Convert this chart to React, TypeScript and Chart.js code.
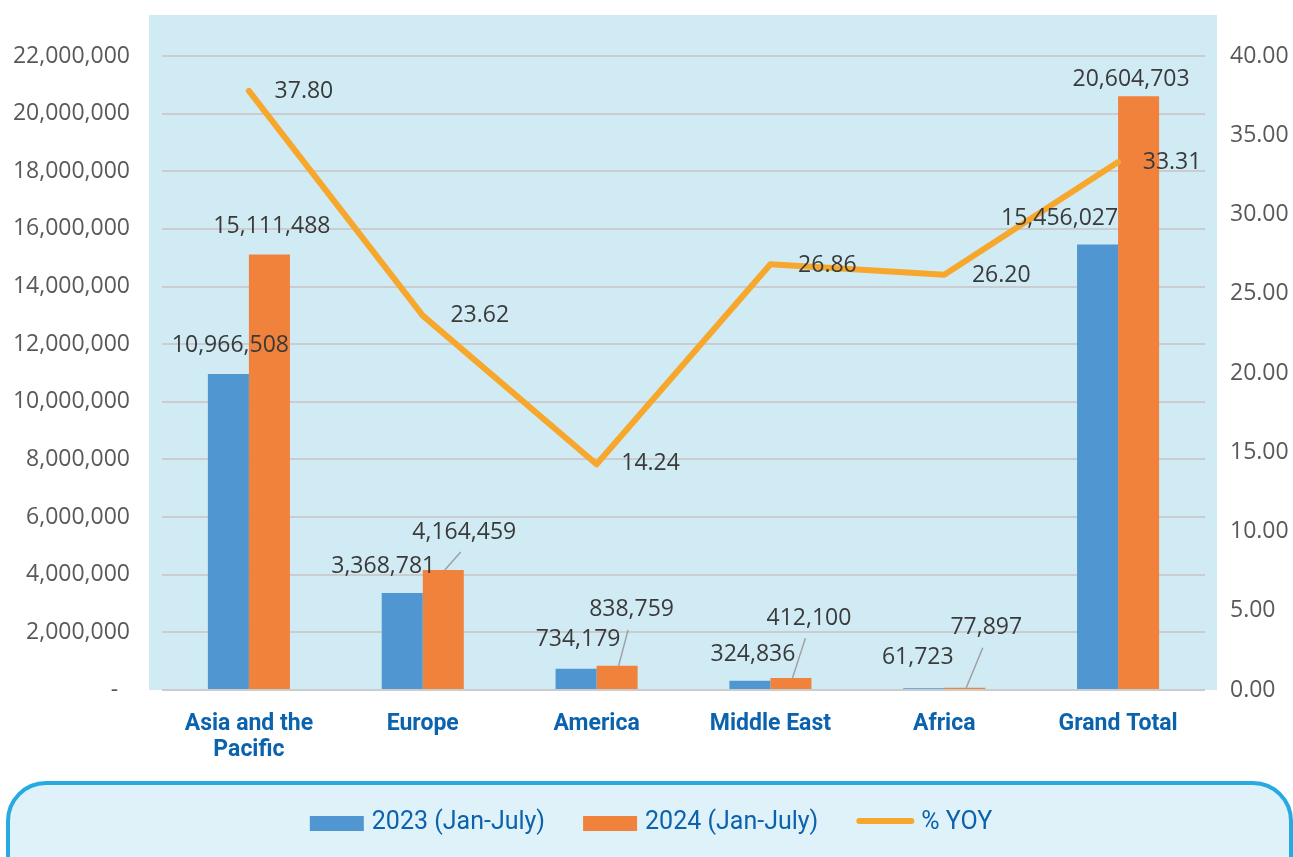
import React, { useEffect, useRef } from "react";
import { Chart, registerables } from "chart.js";

Chart.register(...registerables);

// ---------- data ----------
const categories: (string | string[])[] = [
  ["Asia and the", "Pacific"],
  "Europe",
  "America",
  "Middle East",
  "Africa",
  "Grand Total",
];
const seriesLabels = ["2023 (Jan-July)", "2024 (Jan-July)", "% YOY"];
const values2023 = [10966508, 3368781, 734179, 324836, 61723, 15456027];
const values2024 = [15111488, 4164459, 838759, 412100, 77897, 20604703];
const yoyPercent = [37.8, 23.62, 14.24, 26.86, 26.2, 33.31];
const leftAxis = { min: 0, max: 22000000, step: 2000000 };
const rightAxis = { min: 0, max: 40, step: 5 };

// ---------- styles ----------
const BLUE = "#5096d1";
const ORANGE = "#f0823c";
const LINE = "#f7a72b";
const PLOT_BG = "#d0ebf4";
const LABEL_COLOR = "#3a3a3a";
const TICK_COLOR = "#595959";
const CAT_COLOR = "#0b62ad";
const NUM_FONT = "'Open Sans', 'Noto Sans', sans-serif";
const CAT_FONT = "Roboto, 'Noto Sans', sans-serif";

// label offsets relative to bar top centre (dx, dy)
const offs2023 = [[2, -29], [-19, -26], [2, -29], [3, -26], [-6, -31], [-38, -26]];
const offs2024 = [[2.5, -28], [21, -38], [14.5, -56], [18, -60], [21.5, -60], [-7.5, -17]];
const leader2024 = [false, true, true, true, true, false];
const lineOffs = [[55, 1], [57, 0], [54, -1], [57, 1], [57, 1], [54, 0]];

const fmtInt = (v: number) => v.toLocaleString("en-US");

const decorPlugin = {
  id: "decor",
  beforeDraw(chart: any) {
    const { ctx, chartArea: ca } = chart;
    ctx.save();
    ctx.fillStyle = PLOT_BG;
    ctx.fillRect(ca.left - 13, 15, ca.right - ca.left + 25, ca.bottom - 15);
    // legend box
    ctx.beginPath();
    (ctx as any).roundRect(8, 783, 1283, 110, 38);
    ctx.fillStyle = "#dff2fa";
    ctx.fill();
    ctx.lineWidth = 4;
    ctx.strokeStyle = "#27aae1";
    ctx.stroke();
    ctx.restore();
  },
  afterDatasetsDraw(chart: any) {
    const { ctx } = chart;
    ctx.save();
    ctx.font = `23px ${NUM_FONT}`;
    ctx.fillStyle = LABEL_COLOR;
    ctx.textAlign = "center";
    ctx.textBaseline = "middle";
    const bars = [
      { idx: 0, vals: values2023, offs: offs2023, leaders: null as boolean[] | null },
      { idx: 1, vals: values2024, offs: offs2024, leaders: leader2024 },
    ];
    for (const b of bars) {
      const meta = chart.getDatasetMeta(b.idx);
      meta.data.forEach((el: any, j: number) => {
        const lx = el.x + b.offs[j][0];
        const ly = el.y + b.offs[j][1];
        if (b.leaders && b.leaders[j]) {
          ctx.save();
          ctx.strokeStyle = "#a0a0a0";
          ctx.lineWidth = 1.5;
          ctx.beginPath();
          ctx.moveTo(el.x + 1.5, el.y);
          ctx.lineTo(lx - 3.5, ly + 20);
          ctx.stroke();
          ctx.restore();
        }
        ctx.fillText(fmtInt(b.vals[j]), lx, ly);
      });
    }
    const lineMeta = chart.getDatasetMeta(2);
    lineMeta.data.forEach((el: any, j: number) => {
      ctx.fillText(yoyPercent[j].toFixed(2), el.x + lineOffs[j][0], el.y + lineOffs[j][1]);
    });
    ctx.restore();
  },
  afterDraw(chart: any) {
    const { ctx } = chart;
    ctx.save();
    ctx.font = `25px ${CAT_FONT}`;
    ctx.textBaseline = "middle";
    ctx.textAlign = "left";
    const cy = 823;
    const colors = [BLUE, ORANGE, LINE];
    const swW = [54, 54, 58];
    const gapText = [8, 8, 7];
    const gapItem = 38;
    const widths = seriesLabels.map((t) => ctx.measureText(t).width);
    let total = 0;
    for (let i = 0; i < 3; i++) total += swW[i] + gapText[i] + widths[i] + (i < 2 ? gapItem : 0);
    let x = 651 - total / 2;
    for (let i = 0; i < 3; i++) {
      if (i < 2) {
        ctx.fillStyle = colors[i];
        ctx.fillRect(x, cy - 7, swW[i], 15);
      } else {
        ctx.strokeStyle = colors[i];
        ctx.lineWidth = 6;
        ctx.lineCap = "round";
        ctx.beginPath();
        ctx.moveTo(x + 3, cy - 2);
        ctx.lineTo(x + swW[i] - 3, cy - 2);
        ctx.stroke();
      }
      x += swW[i] + gapText[i];
      ctx.fillStyle = CAT_COLOR;
      ctx.fillText(seriesLabels[i], x, cy);
      x += widths[i] + gapItem;
    }
    ctx.restore();
  },
};

export default function App() {
  const ref = useRef<HTMLCanvasElement>(null);
  useEffect(() => {
    document.body.style.margin = "0";
    const canvas = ref.current!;
    const chart = new Chart(canvas, {
      type: "bar",
      data: {
        labels: categories as any,
        datasets: [
          {
            type: "bar",
            label: seriesLabels[0],
            data: values2023,
            backgroundColor: BLUE,
            yAxisID: "y",
            order: 1,
            barPercentage: 1,
            categoryPercentage: 0.472,
          },
          {
            type: "bar",
            label: seriesLabels[1],
            data: values2024,
            backgroundColor: ORANGE,
            yAxisID: "y",
            order: 1,
            barPercentage: 1,
            categoryPercentage: 0.472,
          },
          {
            type: "line",
            label: seriesLabels[2],
            data: yoyPercent,
            borderColor: LINE,
            backgroundColor: LINE,
            borderWidth: 6,
            borderCapStyle: "round",
            borderJoinStyle: "round",
            pointRadius: 0,
            pointHoverRadius: 0,
            tension: 0,
            yAxisID: "y1",
            order: 0,
          } as any,
        ],
      },
      options: {
        responsive: false,
        animation: false,
        devicePixelRatio: 1,
        layout: { padding: { top: 56, left: 0, right: 0, bottom: 77 } },
        plugins: {
          legend: { display: false },
          tooltip: { enabled: false },
        },
        scales: {
          x: {
            grid: { display: false },
            border: { display: false },
            ticks: {
              color: CAT_COLOR,
              padding: 13,
              maxRotation: 0,
              autoSkip: false,
              font: { family: CAT_FONT, size: 23, weight: "bold", lineHeight: 1.13 },
            },
            afterFit: (s: any) => {
              s.height = 90;
            },
          },
          y: {
            position: "left",
            min: leftAxis.min,
            max: leftAxis.max,
            grid: { color: "#c9cdd0", lineWidth: 2, drawTicks: false },
            border: { display: false },
            ticks: {
              stepSize: leftAxis.step,
              padding: 32,
              color: TICK_COLOR,
              font: { family: NUM_FONT, size: 23 },
              callback: (v: any) => (Number(v) === 0 ? "-  " : fmtInt(Number(v))),
            },
            afterFit: (s: any) => {
              s.width = 162;
            },
          },
          y1: {
            position: "right",
            min: rightAxis.min,
            max: rightAxis.max,
            grid: { display: false, drawTicks: false },
            border: { display: false },
            ticks: {
              stepSize: rightAxis.step,
              padding: 25,
              color: TICK_COLOR,
              font: { family: NUM_FONT, size: 23 },
              callback: (v: any) => Number(v).toFixed(2),
            },
            afterFit: (s: any) => {
              s.width = 88;
            },
          },
        },
      },
      plugins: [decorPlugin],
    });
    return () => chart.destroy();
  }, []);
  return (
    <div style={{ width: 1293, height: 857 }}>
      <canvas ref={ref} width={1293} height={857} style={{ display: "block" }} />
    </div>
  );
}
